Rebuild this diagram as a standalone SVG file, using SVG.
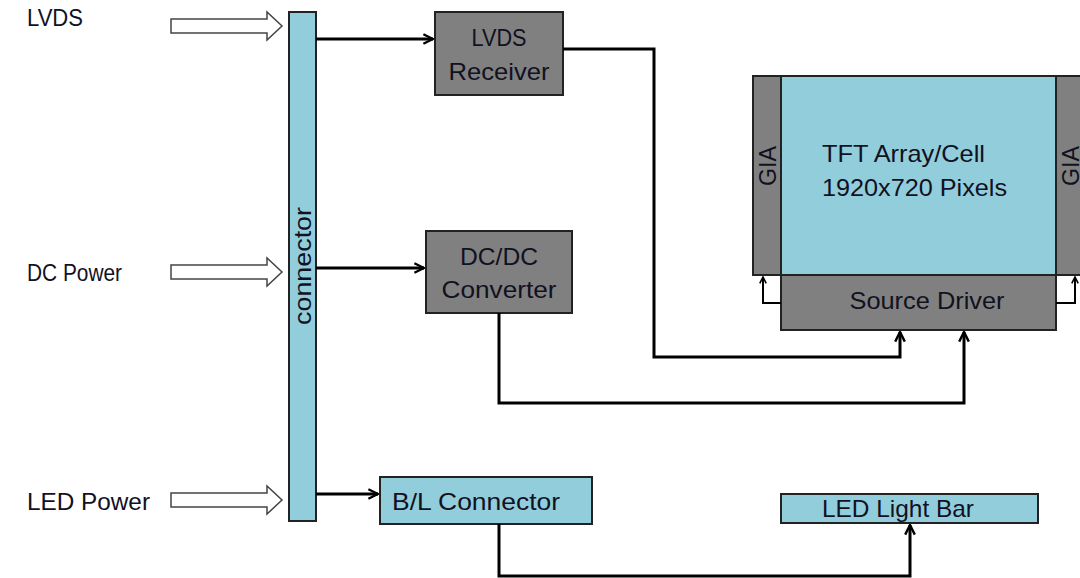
<svg xmlns="http://www.w3.org/2000/svg" width="1080" height="578" viewBox="0 0 1080 578">
<defs>
<style>
.t{font-family:"Liberation Sans",Arial,sans-serif;font-size:24px;fill:#11111f}
.blue{fill:#92cddc;stroke:#222;stroke-width:2}
.gray{fill:#808080;stroke:#222;stroke-width:2}
.hollow{fill:#fff;stroke:#444;stroke-width:1.5}
.wire{fill:none;stroke:#000;stroke-width:3}
</style>
<marker id="ah" viewBox="0 0 10 10" refX="9" refY="5" markerWidth="4" markerHeight="4" orient="auto" markerUnits="strokeWidth">
<path d="M1,1 L9,5 L1,9" fill="none" stroke="#000" stroke-width="2"/>
</marker>
</defs>
<rect width="1080" height="578" fill="#fff"/>

<g id="input-lvds">
<text class="t" x="27" y="26" textLength="56" lengthAdjust="spacingAndGlyphs">LVDS</text>
<polygon class="hollow" points="171,19 267,19 267,12 282,26 267,40 267,33 171,33"/>
</g>
<g id="input-dc">
<text class="t" x="27" y="281" textLength="95" lengthAdjust="spacingAndGlyphs">DC Power</text>
<polygon class="hollow" points="171,265 267,265 267,258 282,272 267,286 267,279 171,279"/>
</g>
<g id="input-led">
<text class="t" x="27" y="510" textLength="123" lengthAdjust="spacingAndGlyphs">LED Power</text>
<polygon class="hollow" points="171,493 267,493 267,486 282,500 267,514 267,507 171,507"/>
</g>

<g id="connector">
<rect class="blue" x="289" y="12" width="27" height="509"/>
<text class="t" transform="translate(311,266) rotate(-90)" text-anchor="middle" textLength="118" lengthAdjust="spacingAndGlyphs">connector</text>
</g>

<g id="lvds-receiver">
<rect class="gray" x="435" y="12" width="128" height="83"/>
<text class="t" x="499" y="46" text-anchor="middle" textLength="55" lengthAdjust="spacingAndGlyphs">LVDS</text>
<text class="t" x="499" y="80" text-anchor="middle" textLength="101" lengthAdjust="spacingAndGlyphs">Receiver</text>
</g>

<g id="dcdc-converter">
<rect class="gray" x="426" y="231" width="146" height="82"/>
<text class="t" x="499" y="265" text-anchor="middle" textLength="78" lengthAdjust="spacingAndGlyphs">DC/DC</text>
<text class="t" x="499" y="298" text-anchor="middle" textLength="115" lengthAdjust="spacingAndGlyphs">Converter</text>
</g>

<g id="bl-connector">
<rect class="blue" x="380" y="477" width="212" height="47"/>
<text class="t" x="392" y="510" textLength="168" lengthAdjust="spacingAndGlyphs">B/L Connector</text>
</g>

<g id="gia-left">
<rect class="gray" x="753" y="76" width="28" height="199"/>
<text class="t" transform="translate(776,166) rotate(-90)" text-anchor="middle" textLength="40" lengthAdjust="spacingAndGlyphs">GIA</text>
</g>
<g id="gia-right">
<rect class="gray" x="1056" y="76" width="30" height="199"/>
<text class="t" transform="translate(1079,166) rotate(-90)" text-anchor="middle" textLength="40" lengthAdjust="spacingAndGlyphs">GIA</text>
</g>
<g id="tft-array">
<rect class="blue" x="781" y="76" width="275" height="199"/>
<text class="t" x="822" y="162" textLength="163" lengthAdjust="spacingAndGlyphs">TFT Array/Cell</text>
<text class="t" x="822" y="196" textLength="185" lengthAdjust="spacingAndGlyphs">1920x720 Pixels</text>
</g>
<g id="source-driver">
<rect class="gray" x="781" y="275" width="275" height="55"/>
<text class="t" x="927" y="309" text-anchor="middle" textLength="155" lengthAdjust="spacingAndGlyphs">Source Driver</text>
</g>

<g id="led-light-bar">
<rect class="blue" x="781" y="494" width="257" height="29"/>
<text class="t" x="898" y="517" text-anchor="middle" textLength="152" lengthAdjust="spacingAndGlyphs">LED Light Bar</text>
</g>

<g id="connectors">
<path class="wire" d="M316,39 L433,39" marker-end="url(#ah)"/>
<path class="wire" d="M316,268 L424,268" marker-end="url(#ah)"/>
<path class="wire" d="M316,494 L378,494" marker-end="url(#ah)"/>
<path class="wire" d="M563,49 L654,49 L654,357 L900,357 L900,332" marker-end="url(#ah)"/>
<path class="wire" d="M499,313 L499,403 L964,403 L964,332" marker-end="url(#ah)"/>
<path class="wire" d="M499,524 L499,576 L910,576 L910,525" marker-end="url(#ah)"/>
<path class="wire" style="stroke-width:2" d="M781,303 L763,303 L763,277" marker-end="url(#ah)"/>
<path class="wire" style="stroke-width:2" d="M1056,303 L1075,303 L1075,277" marker-end="url(#ah)"/>
</g>
</svg>
